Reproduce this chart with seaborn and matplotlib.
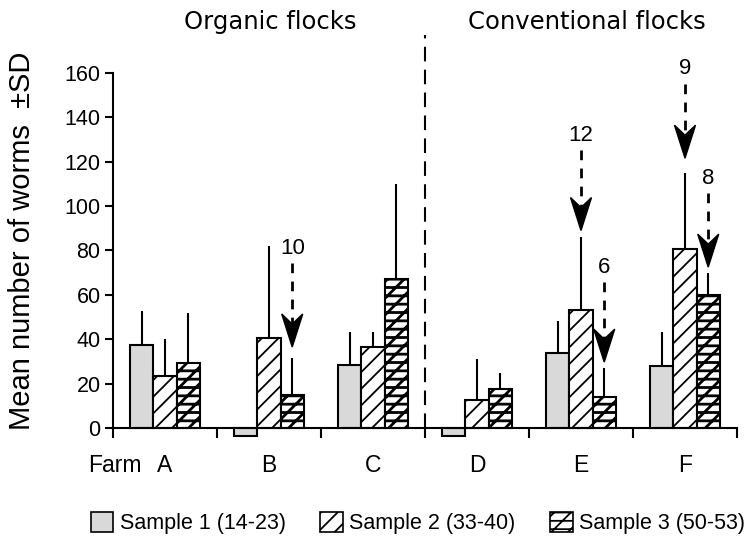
import matplotlib
matplotlib.use("Agg")
import matplotlib.pyplot as plt
import matplotlib.transforms as mtransforms
from matplotlib.patches import Polygon, Patch
import seaborn as sns
import pandas as pd

farms = ["A", "B", "C", "D", "E", "F"]
samples = ["Sample 1 (14-23)", "Sample 2 (33-40)", "Sample 3 (50-53)"]
sample1_mean = [37.5, -3.5, 28.3, -3.5, 34.0, 28.0]
sample1_sd = [15.3, 0.0, 15.0, 0.0, 14.4, 15.1]
sample2_mean = [23.4, 40.7, 36.5, 12.6, 53.2, 80.6]
sample2_sd = [16.6, 41.3, 6.7, 18.4, 32.8, 34.4]
sample3_mean = [29.3, 14.8, 67.1, 17.6, 14.1, 60.0]
sample3_sd = [22.7, 16.7, 43.0, 7.4, 13.1, 10.0]
# arrows: (farm, sample index, label, label y, arrow tip y)
arrow_farm = ["B", "E", "E", "F", "F"]
arrow_sample = [2, 1, 2, 1, 2]
arrow_label = ["10", "12", "6", "9", "8"]
arrow_text_y = [81, 132, 72.5, 162, 112.6]
arrow_tip_y = [36.5, 89, 29.7, 121.6, 72.5]
yticks = [0, 20, 40, 60, 80, 100, 120, 140, 160]

means = [sample1_mean, sample2_mean, sample3_mean]
sds = [sample1_sd, sample2_sd, sample3_sd]
rows = []
for s, m in zip(samples, means):
    for f, v in zip(farms, m):
        rows.append({"farm": f, "sample": s, "value": v})
df = pd.DataFrame(rows)

sns.set_style("white")
plt.rcParams["font.family"] = ["Liberation Sans", "DejaVu Sans"]
for k in ["text.color", "axes.labelcolor", "xtick.color", "ytick.color"]:
    plt.rcParams[k] = "black"
plt.rcParams["hatch.linewidth"] = 1.3

fig = plt.figure(figsize=(7.5, 5.47), dpi=100)
ax = fig.add_axes([113 / 750, 1 - 441.3 / 547, 624 / 750, 368.3 / 547])

colors = ["#d9d9d9", "white", "white"]
hatches = [None, "//", "//--"]
hatch_lw = [1.3, 1.3, 2.0]
sns.barplot(data=df, x="farm", y="value", hue="sample", order=farms,
            hue_order=samples, palette=colors, width=0.67, errorbar=None,
            edgecolor="black", linewidth=1.5, legend=False, ax=ax)
for cont, h, hl in zip(ax.containers, hatches, hatch_lw):
    for p in cont:
        if h:
            p.set_hatch(h)
            if hasattr(p, "set_hatch_linewidth"):
                p.set_hatch_linewidth(hl)

ax.set_xlim(-0.5, 5.5)
ax.set_ylim(-6, 160)

# upper SD lines
for cont, sd in zip(ax.containers, sds):
    for p, s in zip(cont, sd):
        if s > 0:
            xc = p.get_x() + p.get_width() / 2
            top = p.get_y() + p.get_height()
            ax.plot([xc, xc], [top, top + s], color="black", lw=1.5,
                    solid_capstyle="butt", zorder=1)

sns.despine(ax=ax)
ax.spines["bottom"].set_position(("data", 0))
ax.spines["bottom"].set_bounds(-0.5, 5.5)
ax.spines["left"].set_bounds(0, 160)
for sp in ["bottom", "left"]:
    ax.spines[sp].set_linewidth(1.5)
    ax.spines[sp].set_color("black")
    ax.spines[sp].set_zorder(5)

ax.set_yticks(yticks)
ax.set_yticklabels([str(t) for t in yticks], fontsize=15.5)
ax.tick_params(axis="y", direction="out", length=6, width=1.5, pad=3, left=True)

ax.set_xticks([i - 0.5 for i in range(len(farms) + 1)])
ax.set_xticklabels([])
ax.set_xticks(range(len(farms)), minor=True)
ax.set_xticklabels(farms, minor=True, fontsize=16.5)
ax.tick_params(axis="x", which="major", direction="out", length=7, width=1.5, bottom=True)
ax.tick_params(axis="x", which="minor", length=0, pad=19, bottom=True)
ax.set_xlabel("")
ax.set_ylabel("")

# dashed divider
ax.plot([2.5, 2.5], [0, 177], color="black", lw=1.5, ls=(0, (7, 4)),
        clip_on=False, zorder=0)

# arrows
fig.canvas.draw()
ppu = ax.transData.transform((0, 1))[1] - ax.transData.transform((0, 0))[1]
head_len, head_w, notch = 33, 21, 10
for f, si, lab, ty, tip in zip(arrow_farm, arrow_sample, arrow_label,
                               arrow_text_y, arrow_tip_y):
    p = ax.containers[si][farms.index(f)]
    xc = p.get_x() + p.get_width() / 2
    ax.text(xc, ty, lab, ha="center", va="center", fontsize=16, clip_on=False)
    shaft_top = ty - 15 / ppu
    shaft_bot = tip + (head_len - notch) / ppu
    ax.plot([xc, xc], [shaft_top, shaft_bot], color="black", lw=2,
            ls=(0, (3.5, 3)), clip_on=False, zorder=6)
    off = mtransforms.ScaledTranslation(xc, tip, ax.transData)
    verts = [(0, 0), (-head_w / 2 / 100, head_len / 100),
             (0, (head_len - notch) / 100), (head_w / 2 / 100, head_len / 100)]
    ax.add_patch(Polygon(verts, closed=True, facecolor="black", edgecolor="black",
                         transform=fig.dpi_scale_trans + off, clip_on=False, zorder=7))

# texts
fig.text(22 / 750, 1 - 241 / 547, "Mean number of worms  \u00b1SD", rotation=90,
         ha="center", va="center", fontsize=21)
fig.text(270 / 750, 1 - 22 / 547, "Organic flocks", ha="center", va="center",
         fontsize=17.5, family="DejaVu Sans")
fig.text(587 / 750, 1 - 22 / 547, "Conventional flocks", ha="center", va="center",
         fontsize=17.5, family="DejaVu Sans")
fig.text(142 / 750, 1 - 465 / 547, "Farm", ha="right", va="center", fontsize=16.5)

handles = []
for c, h, hl in zip(colors, hatches, hatch_lw):
    hp = Patch(facecolor=c, edgecolor="black", hatch=h, linewidth=1.2)
    if h and hasattr(hp, "set_hatch_linewidth"):
        hp.set_hatch_linewidth(hl)
    handles.append(hp)
fig.legend(handles, samples, loc="center", bbox_to_anchor=(418 / 750, 1 - 523 / 547),
           ncol=3, frameon=False, fontsize=15.5, handlelength=1.05, handleheight=1.1,
           handletextpad=0.3, columnspacing=1.6)

fig.savefig("out.png", dpi=100)
